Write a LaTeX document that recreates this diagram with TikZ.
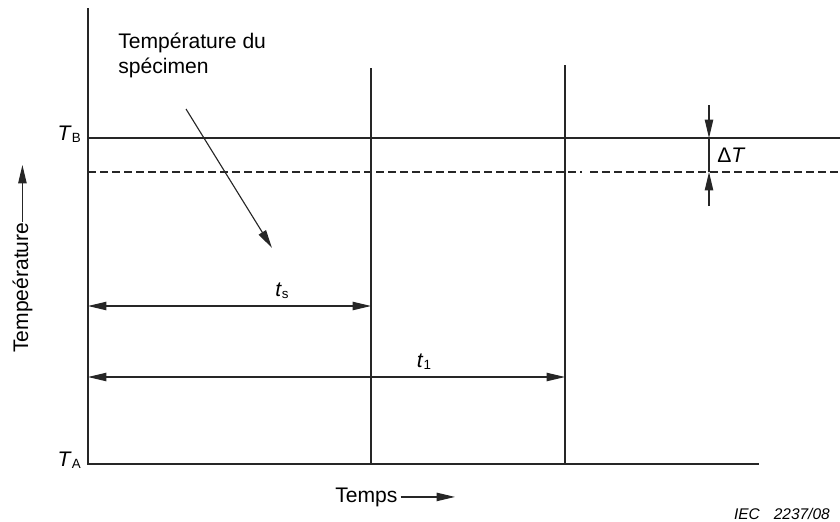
\documentclass[tikz,border=0pt]{standalone}
\usepackage{fontspec}
\setmainfont{Liberation Sans}
\usetikzlibrary{arrows.meta,positioning,calc}

\newcommand{\symsub}[2]{\textit{#1}\raisebox{-0.2ex}{\fontsize{9.5}{11}\selectfont #2}}

\begin{document}
\begin{tikzpicture}[
        x=0.025cm, y=-0.025cm,
        line/.style={draw=black!85, line width=0.8pt},
        dimline/.style={line, {Triangle[length=4.6mm,width=2.1mm]}-{Triangle[length=4.6mm,width=2.1mm]}},
        pointer/.style={line, -{Triangle[length=4.6mm,width=2.1mm]}},
        lbl/.style={inner sep=0pt, font=\fontsize{15}{17.5}\selectfont},
        levelgap/.style={line, dash pattern=on 0.2cm off 0.1cm}
    ]
        \useasboundingbox (0,0) rectangle (840,521);

        % axes
        \coordinate (ytop) at (88,8);
        \coordinate (origin) at (88,464);
        \coordinate (xend) at (759,464);
        \draw[line] (ytop) -- (origin) -- (xend);

        % time marks
        \coordinate (tstop) at (371,68);
        \coordinate (tsbot) at (371,464);
        \coordinate (tonetop) at (565,65);
        \coordinate (tonebot) at (565,464);
        \draw[line] (tstop) -- (tsbot);
        \draw[line] (tonetop) -- (tonebot);

        % temperature levels
        \coordinate (tbleft) at (88,138);
        \coordinate (tbright) at (840,138);
        \coordinate (lowleft) at (88,172);
        \coordinate (gapleft) at (582,172);
        \coordinate (gapright) at (590,172);
        \coordinate (lowright) at (840,172);
        \draw[line] (tbleft) -- (tbright);
        \draw[levelgap] (lowleft) -- (gapleft);
        \draw[levelgap] (gapright) -- (lowright);

        \node[lbl, anchor=east] (tb) at (81,134) {\symsub{T}{B}};
        \node[lbl, anchor=east] (ta) at (81,460) {\symsub{T}{A}};

        % delta T
        \coordinate (dttop) at (709,105);
        \coordinate (dthigh) at (709,138);
        \coordinate (dtlow) at (709,172);
        \coordinate (dtbot) at (709,206);
        \draw[pointer] (dttop) -- (dthigh);
        \draw[line] (dthigh) -- (dtlow);
        \draw[pointer] (dtbot) -- (dtlow);
        \node[lbl, anchor=west] (dtlbl) at (717,155) {Δ\textit{T}};

        % specimen
        \node[lbl, anchor=base west, align=left] (spec) at (118,73) {Température du\\spécimen};
        \coordinate (specfrom) at (186,109);
        \coordinate (specto) at (272,248);
        \draw[pointer] (specfrom) -- (specto);

        % durations
        \coordinate (tsleft) at (88,306);
        \coordinate (tsright) at (371,306);
        \coordinate (toneleft) at (88,377);
        \coordinate (toneright) at (565,377);
        \draw[dimline] (tsleft) -- (tsright);
        \draw[dimline] (toneleft) -- (toneright);
        \node[lbl] (tslbl) at (282,291) {\symsub{t}{s}};
        \node[lbl] (tonelbl) at (424,362) {\symsub{t}{1}};

        % axis titles
        \node[lbl, rotate=90, anchor=base west] (ylbl) at (28,353) {Tempeérature};
        \coordinate (yarrow) at (23,165);
        \draw[pointer] (ylbl.east) -- (ylbl.east |- yarrow);

        \node[lbl, anchor=base west] (temps) at (335,502) {Temps};
        \coordinate (xarrow) at (455,495);
        \draw[pointer, shorten <=2pt] (temps.east) -- (temps.east -| xarrow);

        \node[anchor=base east, inner sep=0pt, font=\fontsize{11}{13}\selectfont\itshape] (iec) at (830,519) {IEC\hspace{0.9em}2237/08};
    \end{tikzpicture}
\end{document}
